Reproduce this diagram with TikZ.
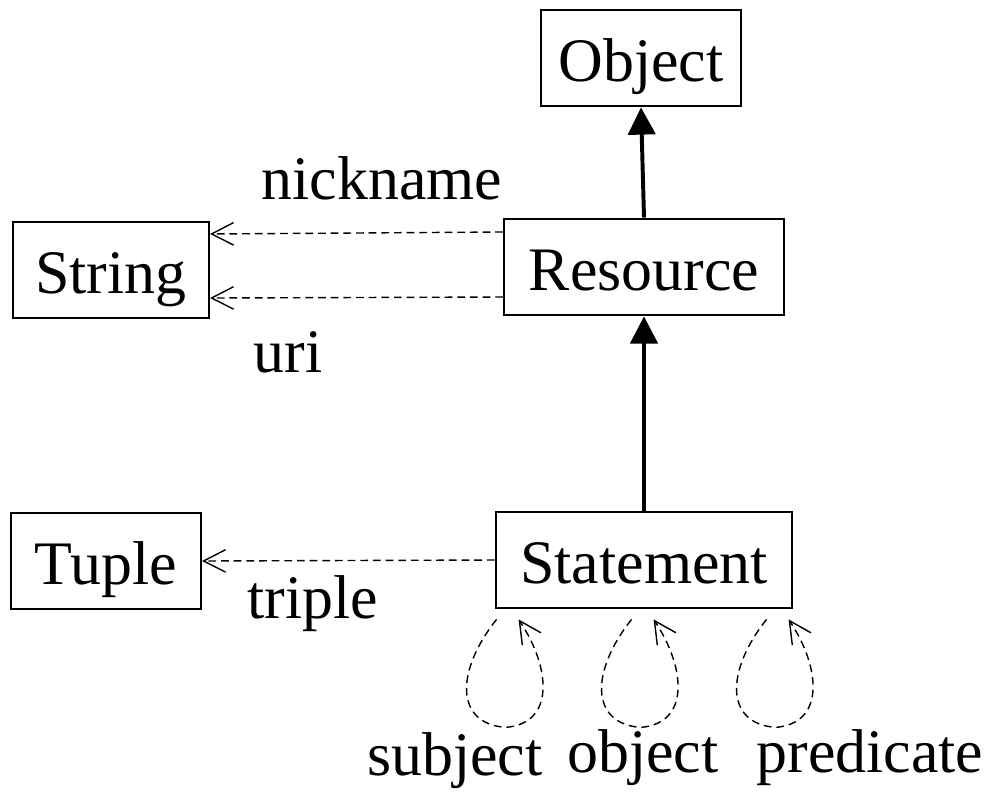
\documentclass[tikz,border=0pt]{standalone}
\usepackage{fontspec}
\setmainfont{Liberation Serif}
\usetikzlibrary{arrows.meta, positioning, calc}

\begin{document}
\begin{tikzpicture}[x=0.025cm, y=-0.025cm,
    cls/.style={draw, line width=1.4pt, minimum height=2.42cm, inner sep=0pt,
                text height=33pt, text depth=0pt,
                font=\fontsize{44}{52}\selectfont},
    lbl/.style={font=\fontsize{44}{52}\selectfont},
    inherit/.style={line width=2.8pt, -{Triangle[length=6.8mm,width=6.8mm]}},
    assoc/.style={line width=1pt, dash pattern=on 5.5pt off 3.5pt,
                  -{Straight Barb[length=5.5mm,width=5.6mm]}}]
    \useasboundingbox (0,0) rectangle (1000,791);

    % classes
    \node[cls, minimum width=5cm] (obj) at (641,58) {Object};
    \node[cls, minimum width=7cm] (res) at (644,267) {Resource};
    \node[cls, minimum width=4.9cm] (str) at (111,270) {String};
    \node[cls, minimum width=7.42cm] (stm) at (644,560) {Statement};
    \node[cls, minimum width=4.75cm] (tup) at (106,561) {Tuple};

    % inheritance
    \path[inherit]
    (res.north) edge (obj.south)
    (stm.north) edge (res.south)
    ;

    % attributes
    \path[assoc]
    ([yshift=8.75mm]res.west) edge ([yshift=9mm]str.east)
    ([yshift=-7.5mm]res.west) edge ([yshift=-7mm]str.east)
    (stm.west) edge (tup.east)
    ;
    \node[lbl] (nick) at (382,178) {nickname};
    \node[lbl] (uri) at (288,352) {uri};
    \node[lbl] (trip) at (313,604) {triple};

    % self loops
    \foreach \d/\n in {0/subj,135/obje,270/pred} {
        \coordinate (\n a) at ([shift={(\d+2,10)}]stm.south west);
        \coordinate (\n m) at ([shift={(\d+11,118)}]stm.south west);
        \coordinate (\n b) at ([shift={(\d+24,10)}]stm.south west);
        \draw[assoc] (\n a) .. controls +(-40,50) and +(-52,-4) .. (\n m)
            .. controls +(50,-4) and +(32,48) .. (\n b);
    }
    \node[lbl] (subj) at (455,761) {subject};
    \node[lbl] (obje) at (643,758) {object};
    \node[lbl] (pred) at (870,758) {predicate};
\end{tikzpicture}
\end{document}
